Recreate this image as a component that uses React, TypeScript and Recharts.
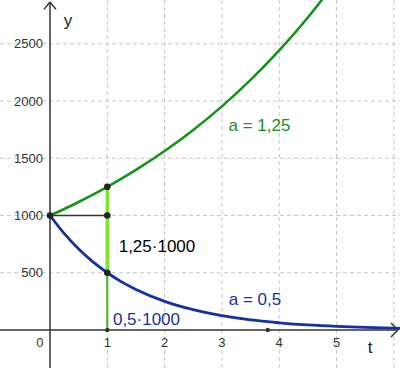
import React from 'react';
import { ComposedChart, Line, XAxis, YAxis, ReferenceLine, ReferenceDot } from 'recharts';

// t values and function values
const growthT = [0, 0.25, 0.5, 0.75, 1, 1.5, 2, 2.5, 3, 3.5, 4, 4.5, 5];
const growthY = [1000, 1057, 1118, 1182, 1250, 1398, 1563, 1747, 1953, 2184, 2441, 2729, 3052];
const decayT = [0, 0.25, 0.5, 0.75, 1, 1.25, 1.5, 2, 2.5, 3, 3.5, 4, 4.5, 5, 5.5, 6, 6.2];
const decayY = [1000, 841, 707, 595, 500, 420, 354, 250, 177, 125, 88, 63, 44, 31, 22, 16, 14];

// marked points
const pointT = [0, 1, 1, 1];
const pointY = [1000, 1250, 1000, 500];

const xTicks = [0, 1, 2, 3, 4, 5];
const xGrid = [1, 2, 3, 4, 5, 6];
const yTicks = [500, 1000, 1500, 2000, 2500];

const growthData = growthT.map((t, i) => ({ t, v: growthY[i] }));
const decayData = decayT.map((t, i) => ({ t, v: decayY[i] }));
const pointData = pointT.map((t, i) => ({ t, v: pointY[i] }));

const FONT = '"Liberation Sans", Arial, sans-serif';
const GRID = '#c6c6c6';
const AXIS = '#333333';
const GREEN = '#14921a';
const BLUE = '#1430a6';
const LIME = '#78e62a';
const LOWGREEN = '#3fb818';

export default function App() {
  return (
    <div style={{ position: 'absolute', left: 0, top: 0 }}>
      <ComposedChart width={400} height={368} margin={{ top: 0, right: 0, bottom: 0, left: 0 }}>
        <XAxis dataKey="t" type="number" domain={[-0.8726, 6.108]} allowDataOverflow hide />
        <YAxis type="number" domain={[-332, 2882]} allowDataOverflow hide />

        {xGrid.map((x) => (
          <ReferenceLine key={'gx' + x} x={x} stroke={GRID} strokeDasharray="4 3" strokeWidth={1} />
        ))}
        {yTicks.map((y) => (
          <ReferenceLine key={'gy' + y} y={y} stroke={GRID} strokeDasharray="4 3" strokeWidth={1} />
        ))}

        <ReferenceLine segment={[{ x: -0.8726, y: 0 }, { x: 6.073, y: 0 }]} stroke={AXIS} strokeWidth={1.5} />
        <ReferenceLine segment={[{ x: 5.951, y: 61 }, { x: 6.073, y: 0 }]} stroke={AXIS} strokeWidth={1.5} />
        <ReferenceLine segment={[{ x: 5.951, y: -61 }, { x: 6.073, y: 0 }]} stroke={AXIS} strokeWidth={1.5} />
        <ReferenceLine segment={[{ x: 0, y: -332 }, { x: 0, y: 2865 }]} stroke={AXIS} strokeWidth={1.5} />
        <ReferenceLine segment={[{ x: -0.105, y: 2800 }, { x: 0, y: 2865 }]} stroke={AXIS} strokeWidth={1.5} />
        <ReferenceLine segment={[{ x: 0.105, y: 2800 }, { x: 0, y: 2865 }]} stroke={AXIS} strokeWidth={1.5} />

        <ReferenceLine segment={[{ x: 1, y: 0 }, { x: 1, y: 500 }]} stroke={LOWGREEN} strokeWidth={2} />
        <ReferenceLine segment={[{ x: 1, y: 500 }, { x: 1, y: 1250 }]} stroke={LIME} strokeWidth={3.5} />
        <ReferenceLine segment={[{ x: 0, y: 1000 }, { x: 1, y: 1000 }]} stroke={AXIS} strokeWidth={1.3} />

        <ReferenceDot x={1} y={0} r={2.2} fill={AXIS} stroke="none" />
        <ReferenceDot x={3.8} y={0} r={2.2} fill={AXIS} stroke="none" />

        <Line data={growthData} dataKey="v" type="monotone" stroke={GREEN} strokeWidth={2.6} dot={false} activeDot={false} isAnimationActive={false} />
        <Line data={decayData} dataKey="v" type="monotone" stroke={BLUE} strokeWidth={2.8} dot={false} activeDot={false} isAnimationActive={false} />
        <Line data={pointData} dataKey="v" type="linear" stroke="none" activeDot={false}
          dot={{ r: 3.3, fill: '#222222', stroke: 'none' }} isAnimationActive={false} />

        {yTicks.map((y) => (
          <ReferenceDot key={'ty' + y} x={0} y={y} r={0} fill="none" stroke="none"
            label={{ value: String(y), position: 'left', offset: 7, fill: '#333', fontSize: 13, fontFamily: FONT }} />
        ))}
        {xTicks.map((x) => (
          <ReferenceDot key={'tx' + x} x={x === 0 ? -0.175 : x} y={-105} r={0} fill="none" stroke="none"
            label={{ value: String(x), position: 'center', fill: '#333', fontSize: 13, fontFamily: FONT }} />
        ))}

        <ReferenceDot x={0.314} y={2705} r={0} fill="none" stroke="none"
          label={{ value: 'y', position: 'center', fill: '#222', fontSize: 17, fontFamily: FONT }} />
        <ReferenceDot x={5.585} y={-150} r={0} fill="none" stroke="none"
          label={{ value: 't', position: 'center', fill: '#222', fontSize: 17, fontFamily: FONT }} />

        <ReferenceDot x={3.656} y={1790} r={0} fill="none" stroke="none"
          label={{ value: 'a = 1,25', position: 'center', fill: GREEN, fontSize: 17, fontFamily: FONT }} />
        <ReferenceDot x={1.867} y={733} r={0} fill="none" stroke="none"
          label={{ value: '1,25·1000', position: 'center', fill: '#000', fontSize: 17, fontFamily: FONT }} />
        <ReferenceDot x={1.684} y={100} r={0} fill="none" stroke="none"
          label={{ value: '0,5·1000', position: 'center', fill: BLUE, fontSize: 17, fontFamily: FONT }} />
        <ReferenceDot x={3.578} y={271} r={0} fill="none" stroke="none"
          label={{ value: 'a = 0,5', position: 'center', fill: BLUE, fontSize: 17, fontFamily: FONT }} />
      </ComposedChart>
    </div>
  );
}
